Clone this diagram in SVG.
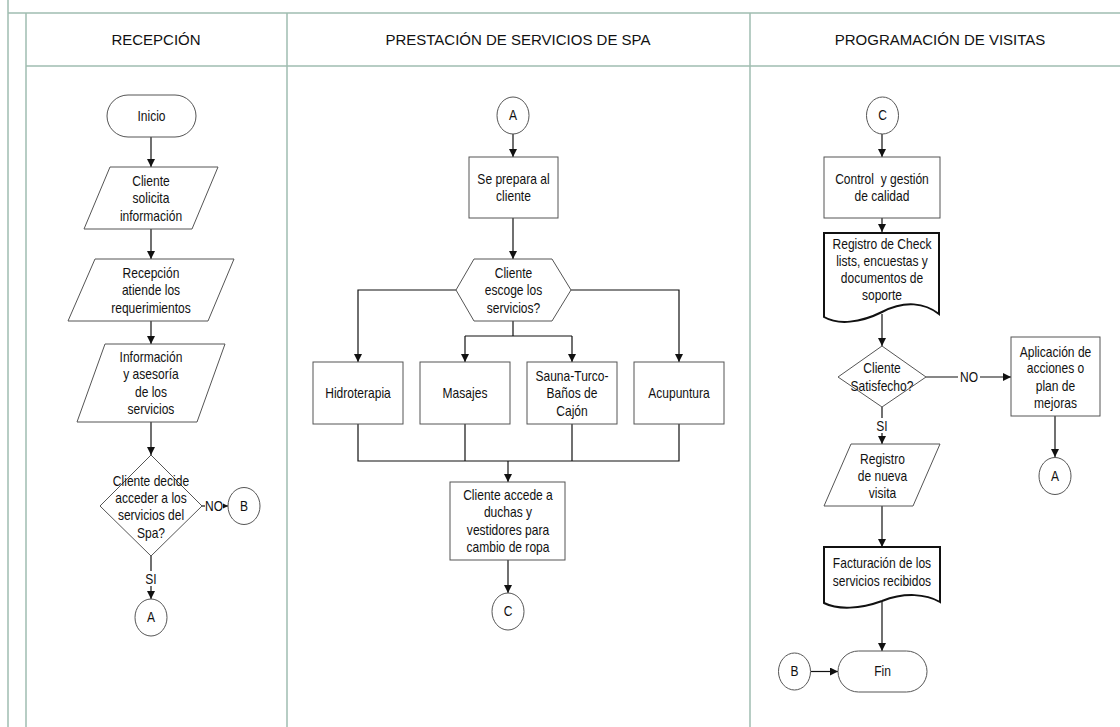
<svg xmlns="http://www.w3.org/2000/svg" width="1120" height="727" viewBox="0 0 1120 727">
<defs>
<style>
.lane{stroke:#9fbcb0;stroke-width:1.5;fill:none}
.hdr{font-family:"Liberation Sans",Arial,sans-serif;font-size:15px;fill:#111;text-anchor:middle}
.t{font-family:"Liberation Sans",Arial,sans-serif;font-size:14px;fill:#111;text-anchor:middle;white-space:pre}
.s{fill:#fff;stroke:#555;stroke-width:1}
.doc{fill:#fff;stroke:#111;stroke-width:2}
.c{stroke:#111;stroke-width:1.2;fill:none}
.lbl{fill:#fff}
</style>
<marker id="ah" viewBox="0 0 10 10" refX="10" refY="5" markerWidth="8" markerHeight="8" markerUnits="userSpaceOnUse" orient="auto">
<path d="M0,0 L10,5 L0,10 Z" fill="#111"/>
</marker>
</defs>
<rect width="1120" height="727" fill="#fff"/>
<g id="lanes">
<line class="lane" x1="8" y1="0" x2="8" y2="727"/>
<line class="lane" x1="8" y1="13" x2="1120" y2="13"/>
<line class="lane" x1="26" y1="13" x2="26" y2="727"/>
<line class="lane" x1="26" y1="66" x2="1120" y2="66"/>
<line class="lane" x1="287" y1="13" x2="287" y2="727"/>
<line class="lane" x1="750" y1="13" x2="750" y2="727"/>
<text class="hdr" x="156" y="45">RECEPCIÓN</text>
<text class="hdr" x="518" y="45">PRESTACIÓN DE SERVICIOS DE SPA</text>
<text class="hdr" x="940" y="45">PROGRAMACIÓN DE VISITAS</text>
</g>
<g id="connectors">
<line class="c" x1="151" y1="137" x2="151" y2="167" marker-end="url(#ah)"/>
<line class="c" x1="151" y1="229" x2="151" y2="259" marker-end="url(#ah)"/>
<line class="c" x1="151" y1="321" x2="151" y2="344" marker-end="url(#ah)"/>
<line class="c" x1="151" y1="422" x2="151" y2="455" marker-end="url(#ah)"/>
<line class="c" x1="202" y1="506" x2="228" y2="506" marker-end="url(#ah)"/>
<line class="c" x1="151" y1="556" x2="151" y2="599" marker-end="url(#ah)"/>
<line class="c" x1="513" y1="134" x2="513" y2="157" marker-end="url(#ah)"/>
<line class="c" x1="513" y1="218" x2="513" y2="259" marker-end="url(#ah)"/>
<polyline class="c" points="456,290 358,290 358,362" marker-end="url(#ah)"/>
<polyline class="c" points="571,290 679,290 679,362" marker-end="url(#ah)"/>
<line class="c" x1="513" y1="321" x2="513" y2="336"/>
<polyline class="c" points="465,336 465,362" marker-end="url(#ah)"/>
<polyline class="c" points="572,336 572,362" marker-end="url(#ah)"/>
<line class="c" x1="465" y1="336" x2="572" y2="336"/>
<polyline class="c" points="358,424 358,461 679,461 679,424"/>
<line class="c" x1="465" y1="424" x2="465" y2="461"/>
<line class="c" x1="572" y1="424" x2="572" y2="461"/>
<line class="c" x1="508" y1="461" x2="508" y2="482" marker-end="url(#ah)"/>
<line class="c" x1="508" y1="560" x2="508" y2="593" marker-end="url(#ah)"/>
<line class="c" x1="882" y1="134" x2="882" y2="157" marker-end="url(#ah)"/>
<line class="c" x1="882" y1="218" x2="882" y2="232" marker-end="url(#ah)"/>
<line class="c" x1="882" y1="314" x2="882" y2="346" marker-end="url(#ah)"/>
<line class="c" x1="926" y1="377" x2="1011" y2="377" marker-end="url(#ah)"/>
<line class="c" x1="882" y1="407" x2="882" y2="444" marker-end="url(#ah)"/>
<line class="c" x1="1055" y1="416" x2="1055" y2="457" marker-end="url(#ah)"/>
<line class="c" x1="882" y1="506" x2="882" y2="547" marker-end="url(#ah)"/>
<line class="c" x1="882" y1="602" x2="882" y2="651" marker-end="url(#ah)"/>
<line class="c" x1="811" y1="671.5" x2="838" y2="671.5" marker-end="url(#ah)"/>
<rect class="lbl" x="205" y="499" width="18" height="14"/>
<text class="t" x="214" y="511" transform="matrix(0.86 0 0 1 29.96 0)">NO</text>
<rect class="lbl" x="145" y="571" width="12" height="15"/>
<text class="t" x="151" y="584" transform="matrix(0.86 0 0 1 21.14 0)">SI</text>
<rect class="lbl" x="958" y="370" width="22" height="14"/>
<text class="t" x="969" y="382" transform="matrix(0.86 0 0 1 135.66 0)">NO</text>
<rect class="lbl" x="876" y="418" width="12" height="15"/>
<text class="t" x="882" y="431" transform="matrix(0.86 0 0 1 123.48 0)">SI</text>
</g>
<g id="inicio">
<rect class="s" x="107" y="95" width="89" height="42" rx="21"/>
<g transform="matrix(0.86 0 0 1 21.21 0)"><text class="t" x="151.5" y="121">Inicio</text></g>
</g>
<g id="cliente-solicita">
<polygon class="s" points="110,167 218,167 192,229 84,229"/>
<g transform="matrix(0.86 0 0 1 21.14 0)">
<text class="t" x="151" y="186">Cliente</text>
<text class="t" x="151" y="203.5">solicita</text>
<text class="t" x="151" y="221">información</text>
</g>
</g>
<g id="recepcion-atiende">
<polygon class="s" points="95,259 234,259 208,321 68,321"/>
<g transform="matrix(0.86 0 0 1 21.14 0)">
<text class="t" x="151" y="278">Recepción</text>
<text class="t" x="151" y="295.5">atiende los</text>
<text class="t" x="151" y="313">requerimientos</text>
</g>
</g>
<g id="informacion">
<polygon class="s" points="105,344 225,344 197,422 77,422"/>
<g transform="matrix(0.86 0 0 1 21.14 0)">
<text class="t" x="151" y="362">Información</text>
<text class="t" x="151" y="379.5">y asesoría</text>
<text class="t" x="151" y="397">de los</text>
<text class="t" x="151" y="414.5">servicios</text>
</g>
</g>
<g id="decide">
<polygon class="s" points="151,455 202,506 151,556 100,506"/>
<g transform="matrix(0.86 0 0 1 21.14 0)">
<text class="t" x="151" y="486">Cliente decide</text>
<text class="t" x="151" y="503.5">acceder a los</text>
<text class="t" x="151" y="520.5">servicios del</text>
<text class="t" x="151" y="538">Spa?</text>
</g>
</g>
<g id="conn-b1">
<ellipse class="s" cx="244" cy="506" rx="16" ry="18.5"/>
<g transform="matrix(0.86 0 0 1 34.16 0)"><text class="t" x="244" y="511">B</text></g>
</g>
<g id="conn-a1">
<ellipse class="s" cx="151" cy="617.5" rx="16" ry="18.5"/>
<g transform="matrix(0.86 0 0 1 21.14 0)"><text class="t" x="151" y="622.5">A</text></g>
</g>
<g id="conn-a2">
<ellipse class="s" cx="513" cy="115.5" rx="16" ry="18.5"/>
<g transform="matrix(0.86 0 0 1 71.82 0)"><text class="t" x="513" y="120.5">A</text></g>
</g>
<g id="prepara">
<rect class="s" x="469" y="157" width="89" height="61"/>
<g transform="matrix(0.86 0 0 1 71.89 0)">
<text class="t" x="513.5" y="184">Se prepara al</text>
<text class="t" x="513.5" y="201.5">cliente</text>
</g>
</g>
<g id="escoge">
<polygon class="s" points="456,290 474,259 552,259 571,290 552,321 474,321"/>
<g transform="matrix(0.86 0 0 1 71.89 0)">
<text class="t" x="513.5" y="278">Cliente</text>
<text class="t" x="513.5" y="295.5">escoge los</text>
<text class="t" x="513.5" y="313">servicios?</text>
</g>
</g>
<g id="hidroterapia">
<rect class="s" x="313" y="362" width="90" height="62"/>
<g transform="matrix(0.86 0 0 1 50.12 0)"><text class="t" x="358" y="398">Hidroterapia</text></g>
</g>
<g id="masajes">
<rect class="s" x="420" y="362" width="90" height="62"/>
<g transform="matrix(0.86 0 0 1 65.1 0)"><text class="t" x="465" y="398">Masajes</text></g>
</g>
<g id="sauna">
<rect class="s" x="527" y="362" width="90" height="62"/>
<g transform="matrix(0.86 0 0 1 80.08 0)">
<text class="t" x="572" y="381">Sauna-Turco-</text>
<text class="t" x="572" y="398">Baños de</text>
<text class="t" x="572" y="416">Cajón</text>
</g>
</g>
<g id="acupuntura">
<rect class="s" x="634" y="362" width="90" height="62"/>
<g transform="matrix(0.86 0 0 1 95.06 0)"><text class="t" x="679" y="398">Acupuntura</text></g>
</g>
<g id="duchas">
<rect class="s" x="450" y="482" width="115" height="78"/>
<g transform="matrix(0.86 0 0 1 71.12 0)">
<text class="t" x="508" y="500">Cliente accede a</text>
<text class="t" x="508" y="517.5">duchas y</text>
<text class="t" x="508" y="535">vestidores para</text>
<text class="t" x="508" y="552.5">cambio de ropa</text>
</g>
</g>
<g id="conn-c1">
<ellipse class="s" cx="508" cy="611.5" rx="16" ry="18.5"/>
<g transform="matrix(0.86 0 0 1 71.12 0)"><text class="t" x="508" y="616.5">C</text></g>
</g>
<g id="conn-c2">
<ellipse class="s" cx="882.5" cy="115.5" rx="16" ry="18.5"/>
<g transform="matrix(0.86 0 0 1 123.55 0)"><text class="t" x="882.5" y="120.5">C</text></g>
</g>
<g id="control">
<rect class="s" x="824" y="157" width="116" height="61"/>
<g transform="matrix(0.86 0 0 1 123.48 0)">
<text class="t" x="882" y="184">Control  y gestión</text>
<text class="t" x="882" y="201.5">de calidad</text>
</g>
</g>
<g id="registro-check">
<path class="doc" d="M824,233 H939 V314 C925,303 905,300 882,312 C860,323 838,325 824,317 Z"/>
<g transform="matrix(0.86 0 0 1 123.48 0)">
<text class="t" x="882" y="249">Registro de Check</text>
<text class="t" x="882" y="266">lists, encuestas y</text>
<text class="t" x="882" y="283">documentos de</text>
<text class="t" x="882" y="300">soporte</text>
</g>
</g>
<g id="satisfecho">
<polygon class="s" points="882,346 926,377 882,407 838,377"/>
<g transform="matrix(0.86 0 0 1 123.48 0)">
<text class="t" x="882" y="373">Cliente</text>
<text class="t" x="882" y="391.5">Satisfecho?</text>
</g>
</g>
<g id="aplicacion">
<rect class="s" x="1011" y="337" width="89" height="79"/>
<g transform="matrix(0.86 0 0 1 147.77 0)">
<text class="t" x="1055.5" y="357">Aplicación de</text>
<text class="t" x="1055.5" y="373.5">acciones o</text>
<text class="t" x="1055.5" y="391.5">plan de</text>
<text class="t" x="1055.5" y="408">mejoras</text>
</g>
</g>
<g id="conn-a3">
<ellipse class="s" cx="1055" cy="476" rx="16" ry="18.5"/>
<g transform="matrix(0.86 0 0 1 147.7 0)"><text class="t" x="1055" y="481">A</text></g>
</g>
<g id="nueva-visita">
<polygon class="s" points="851,444 940,444 913,506 824,506"/>
<g transform="matrix(0.86 0 0 1 123.55 0)">
<text class="t" x="882.5" y="464">Registro</text>
<text class="t" x="882.5" y="481.5">de nueva</text>
<text class="t" x="882.5" y="498">visita</text>
</g>
</g>
<g id="facturacion">
<path class="doc" d="M824,547 H940 V602 C926,594 905,592 882,601 C860,609 838,610 824,603 Z"/>
<g transform="matrix(0.86 0 0 1 123.48 0)">
<text class="t" x="882" y="568">Facturación de los</text>
<text class="t" x="882" y="586">servicios recibidos</text>
</g>
</g>
<g id="fin">
<rect class="s" x="838" y="651" width="89" height="41" rx="20.5"/>
<g transform="matrix(0.86 0 0 1 123.55 0)"><text class="t" x="882.5" y="676.5">Fin</text></g>
</g>
<g id="conn-b2">
<ellipse class="s" cx="794.5" cy="671.5" rx="16" ry="18.5"/>
<g transform="matrix(0.86 0 0 1 111.23 0)"><text class="t" x="794.5" y="676.5">B</text></g>
</g>
</svg>
